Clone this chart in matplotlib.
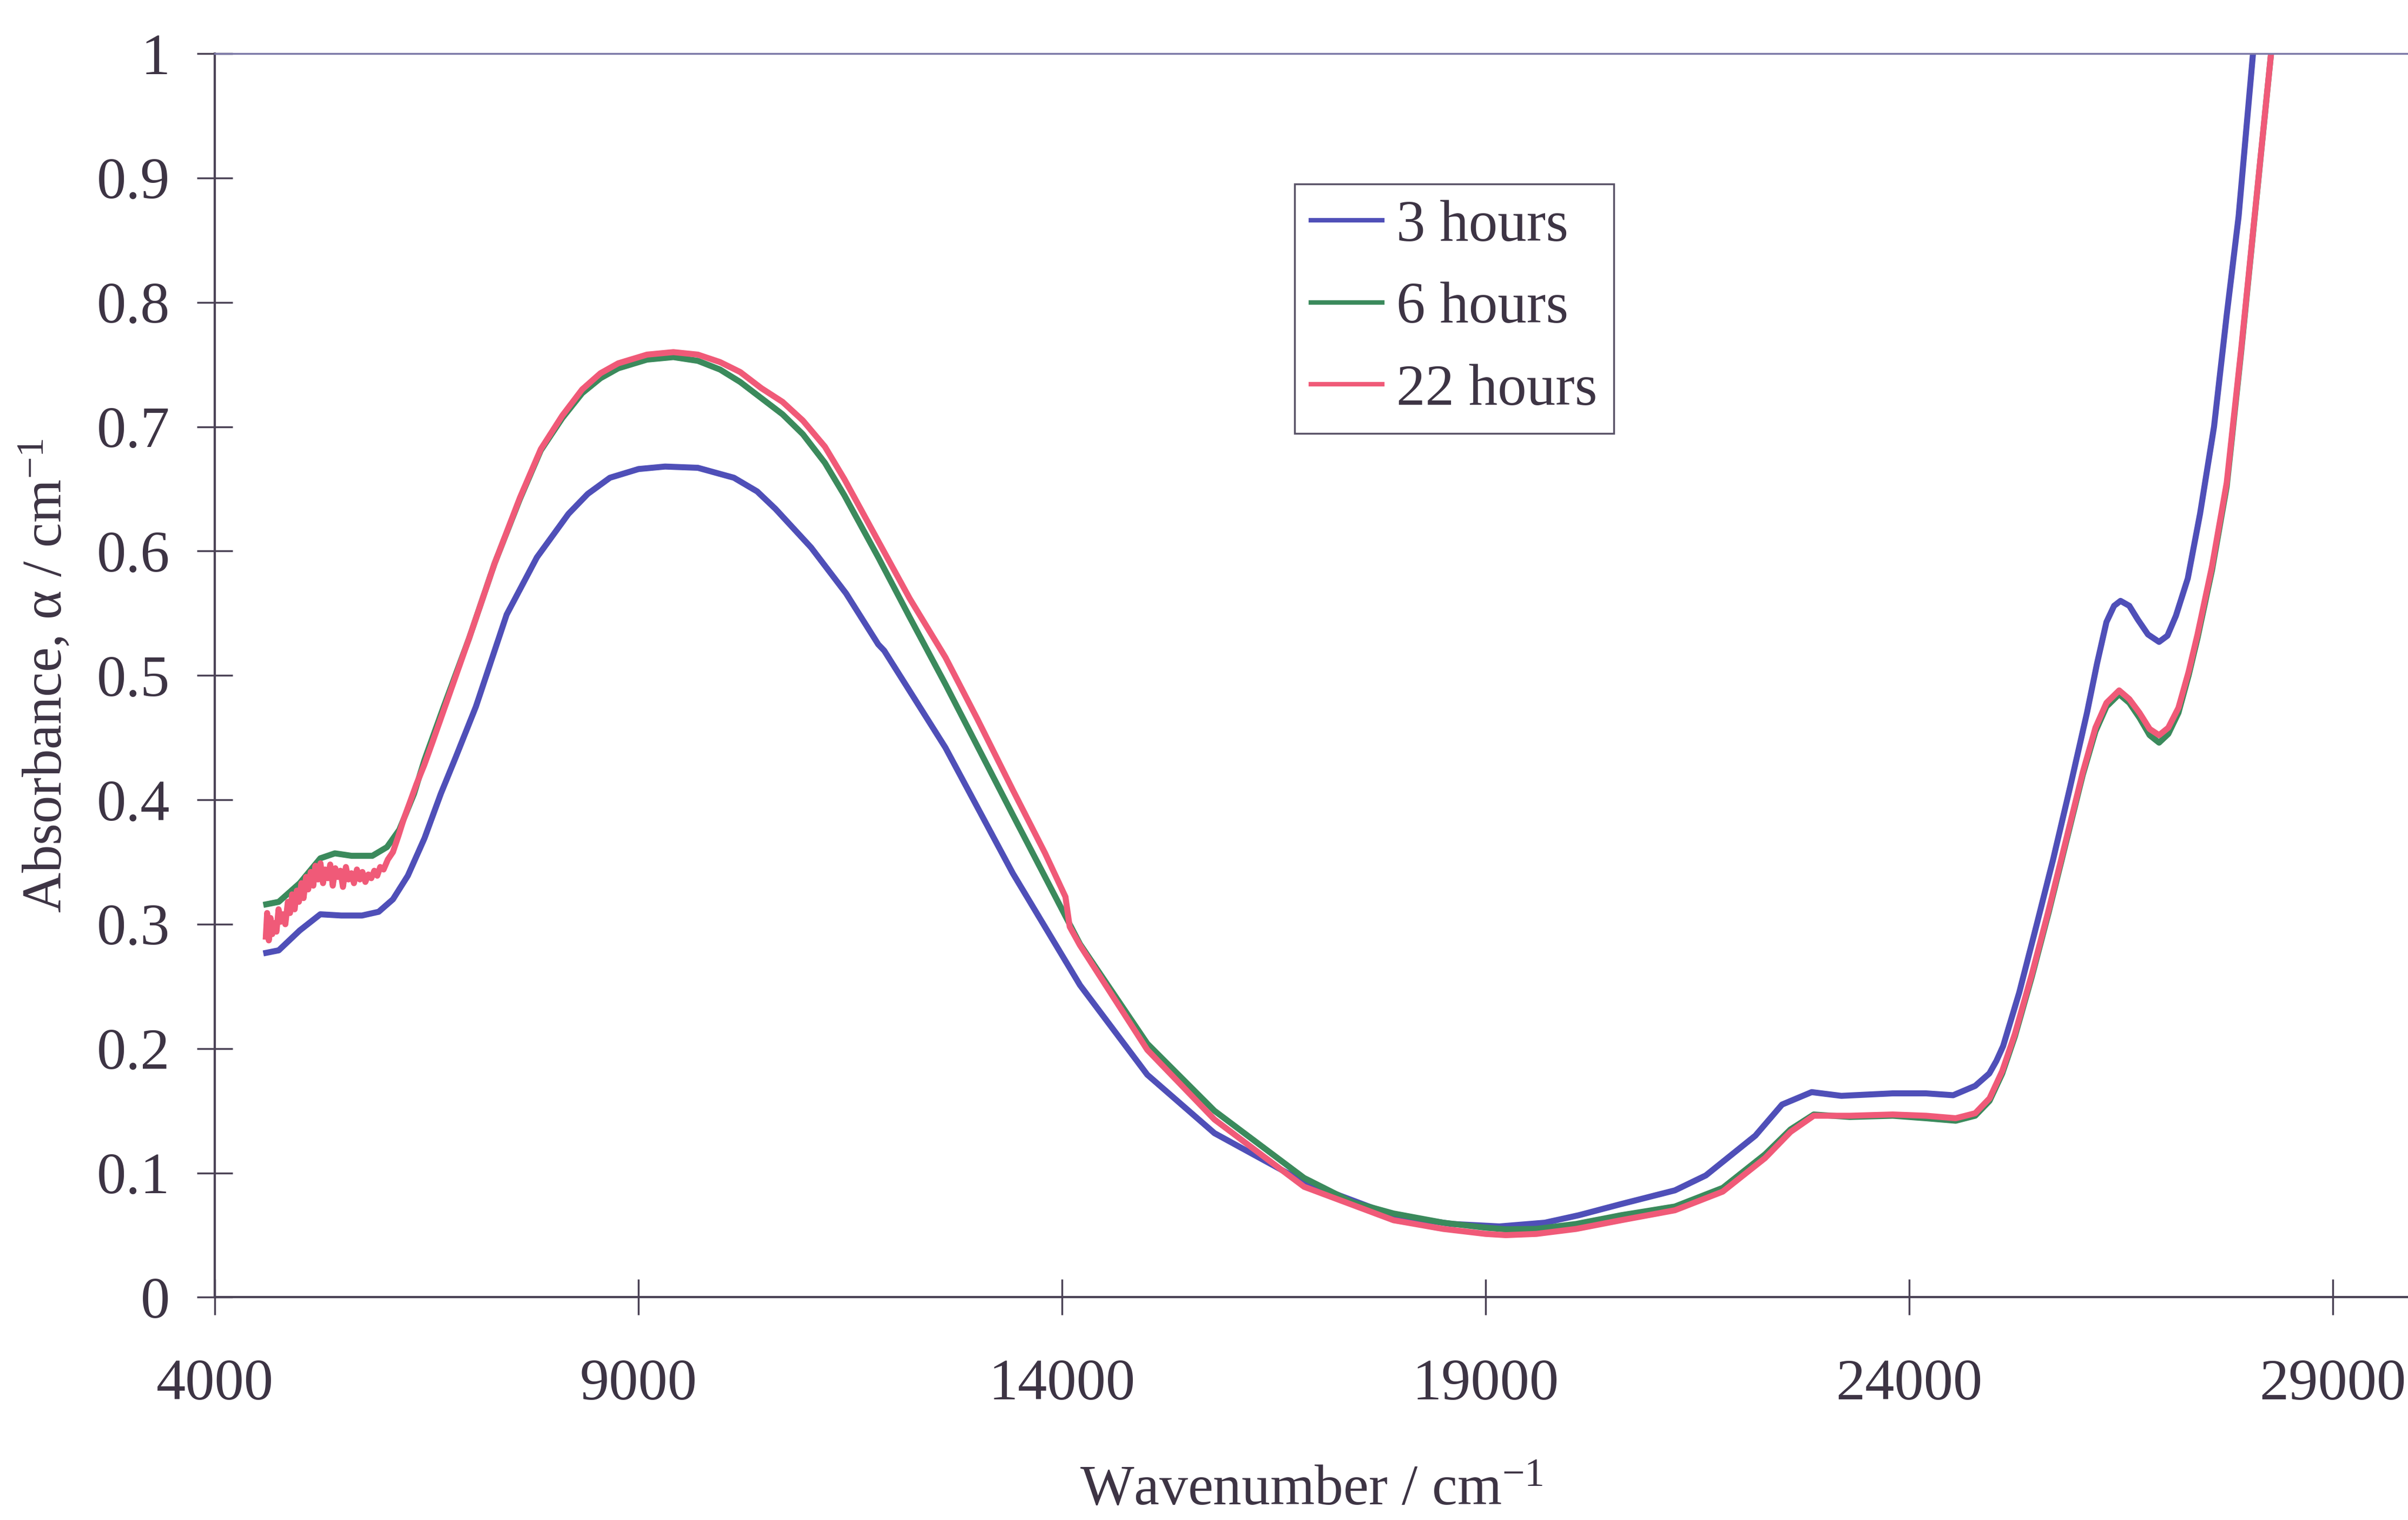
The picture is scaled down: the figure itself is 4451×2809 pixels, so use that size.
import matplotlib
matplotlib.use('Agg')
import matplotlib.pyplot as plt

# wavenumber (cm-1) / absorbance
wn_3h = [4605, 4752, 5000, 5243, 5490, 5735, 5932, 6100, 6276, 6472, 6666, 6840,
         7080, 7443, 7800, 8173, 8400, 8662, 9000, 9313, 9700, 10126, 10400, 10616,
         11036, 11450, 11830, 11900, 12623, 13418, 14212, 15006, 15799, 16857,
         17913, 18600, 19163, 19700, 20100, 20600, 21235, 21600, 22185, 22500,
         22850, 23200, 23806, 24200, 24520, 24780, 24947, 25030, 25110, 25300,
         25500, 25700, 25900, 26100, 26220, 26330, 26420, 26496, 26600, 26700,
         26820, 26951, 27050, 27150, 27290, 27435, 27600, 27750, 27890, 28060, 28100]
abs_3h = [0.277, 0.279, 0.295, 0.308, 0.307, 0.307, 0.310, 0.320, 0.339, 0.369, 0.405, 0.434,
          0.475, 0.549, 0.595, 0.630, 0.646, 0.659, 0.666, 0.668, 0.667, 0.659, 0.648, 0.634,
          0.603, 0.566, 0.525, 0.520, 0.442, 0.341, 0.251, 0.179, 0.132, 0.0926,
          0.0656, 0.059, 0.057, 0.060, 0.066, 0.075, 0.086, 0.098, 0.130, 0.155,
          0.165, 0.162, 0.164, 0.164, 0.1625, 0.170, 0.180, 0.190, 0.202, 0.245,
          0.298, 0.352, 0.410, 0.470, 0.510, 0.543, 0.556, 0.560, 0.556, 0.545,
          0.533, 0.527, 0.532, 0.548, 0.578, 0.630, 0.700, 0.790, 0.869, 1.000, 1.030]

wn_6h = [4605, 4752, 5000, 5243, 5415, 5613, 5857, 6030, 6176, 6350, 6472, 6700,
         7000, 7300, 7600, 7846, 8100, 8334, 8550, 8760, 9100, 9411, 9700, 9962,
         10200, 10450, 10700, 10940, 11200, 11429, 11830, 12200, 12623, 13418,
         14212, 15006, 15799, 16857, 17426, 17913, 18500, 19000, 19239, 19600,
         20070, 20600, 21235, 21800, 22300, 22600, 22874, 23300, 23806, 24200,
         24550, 24780, 24950, 25100, 25250, 25450, 25650, 25850, 26050, 26200,
         26330, 26480, 26600, 26720, 26840, 26951, 27060, 27180, 27300, 27405,
         27577, 27750, 27920, 28080, 28273, 28330]
abs_6h = [0.316, 0.318, 0.333, 0.353, 0.357, 0.355, 0.355, 0.362, 0.376, 0.405, 0.432, 0.475,
          0.530, 0.590, 0.642, 0.681, 0.707, 0.727, 0.739, 0.747, 0.754, 0.756, 0.753, 0.746,
          0.736, 0.723, 0.710, 0.694, 0.671, 0.645, 0.595, 0.547, 0.493, 0.388,
          0.284, 0.204, 0.150, 0.096, 0.0765, 0.0674, 0.060, 0.056, 0.0547, 0.055,
          0.059, 0.066, 0.073, 0.088, 0.115, 0.135, 0.147, 0.145, 0.146, 0.144,
          0.142, 0.146, 0.158, 0.180, 0.210, 0.258, 0.310, 0.365, 0.420, 0.455,
          0.475, 0.485, 0.478, 0.466, 0.452, 0.446, 0.453, 0.470, 0.500, 0.530,
          0.585, 0.652, 0.760, 0.869, 1.000, 1.040]

wn_22h = [4600, 4615, 4635, 4655, 4675, 4700, 4725, 4750, 4775, 4800, 4830, 4860,
          4885, 4910, 4940, 4965, 4990, 5020, 5045, 5075, 5100, 5130, 5160, 5185,
          5215, 5245, 5275, 5300, 5330, 5360, 5390, 5420, 5450, 5480, 5510, 5545,
          5575, 5610, 5640, 5675, 5710, 5740, 5775, 5810, 5845, 5880, 5915, 5950,
          5990, 6040, 6100, 6160, 6230, 6300, 6380, 6470, 6560, 6700, 7000, 7300,
          7600, 7846, 8100, 8334, 8550, 8760, 9100, 9411, 9700, 9962, 10200, 10450,
          10700, 10940, 11200, 11429, 11830, 12200, 12623, 13000, 13418, 13800,
          14040, 14090, 14212, 15006, 15799, 16857, 17913, 18500, 19000, 19239,
          19600, 20070, 20600, 21235, 21800, 22300, 22600, 22874, 23300, 23806,
          24200, 24550, 24780, 24950, 25100, 25250, 25450, 25650, 25850, 26050,
          26200, 26330, 26480, 26600, 26720, 26840, 26951, 27060, 27180, 27300,
          27405, 27577, 27750, 27920, 28080, 28273, 28330]
abs_22h = [0.290, 0.309, 0.287, 0.305, 0.292, 0.301, 0.294, 0.312, 0.302, 0.308, 0.300, 0.318,
           0.309, 0.324, 0.312, 0.327, 0.318, 0.333, 0.321, 0.338, 0.328, 0.342, 0.331, 0.347,
           0.336, 0.349, 0.333, 0.344, 0.337, 0.348, 0.331, 0.345, 0.338, 0.343, 0.330, 0.346,
           0.336, 0.341, 0.333, 0.344, 0.336, 0.342, 0.334, 0.340, 0.337, 0.343, 0.339, 0.346,
           0.344, 0.352, 0.358, 0.370, 0.385, 0.398, 0.413, 0.428, 0.445, 0.472, 0.530, 0.590,
           0.643, 0.682, 0.709, 0.730, 0.743, 0.751, 0.758, 0.760, 0.758, 0.752, 0.744, 0.731,
           0.720, 0.705, 0.684, 0.658, 0.608, 0.562, 0.5146, 0.465, 0.408, 0.357,
           0.322, 0.298, 0.283, 0.199, 0.143, 0.0889, 0.062, 0.055, 0.051, 0.050,
           0.051, 0.055, 0.062, 0.070, 0.085, 0.112, 0.133, 0.146, 0.146, 0.147,
           0.146, 0.144, 0.148, 0.160, 0.182, 0.212, 0.260, 0.312, 0.367, 0.422,
           0.458, 0.478, 0.488, 0.481, 0.470, 0.457, 0.452, 0.458, 0.474, 0.503,
           0.533, 0.588, 0.655, 0.762, 0.870, 1.000, 1.040]

series_labels = ['3 hours', '6 hours', '22 hours']
x_ticks = [4000, 9000, 14000, 19000, 24000, 29000]
y_ticks = [0, 0.1, 0.2, 0.3, 0.4, 0.5, 0.6, 0.7, 0.8, 0.9, 1]
y_tick_labels = ['0', '0.1', '0.2', '0.3', '0.4', '0.5', '0.6', '0.7', '0.8', '0.9', '1']

plt.rcParams['font.family'] = ['Liberation Serif', 'DejaVu Serif']
plt.rcParams['mathtext.fontset'] = 'custom'
plt.rcParams['mathtext.rm'] = 'Liberation Serif'
plt.rcParams['mathtext.it'] = 'Liberation Serif:italic'

ink = '#3d3444'
axis_col = '#4b4356'

fig = plt.figure(figsize=(44.51, 28.09), dpi=100)
ax = fig.add_axes([0.0893, 0.1465, 0.9107, 0.8182])

ax.plot(wn_3h, abs_3h, color='#4f4fb8', lw=8, label=series_labels[0])
ax.plot(wn_6h, abs_6h, color='#3b8a5c', lw=8, label=series_labels[1])
ax.plot(wn_22h, abs_22h, color='#f05a78', lw=8, label=series_labels[2])

ax.set_xlim(4000, 29890)
ax.set_ylim(0, 1)
ax.set_xticks(x_ticks)
ax.set_yticks(y_ticks)
ax.set_yticklabels(y_tick_labels)

ax.spines['right'].set_visible(False)
ax.spines['top'].set_color('#7d7aa8')
ax.spines['top'].set_linewidth(2.5)
for s in ['left', 'bottom']:
    ax.spines[s].set_color(axis_col)
    ax.spines[s].set_linewidth(3)

ax.tick_params(axis='both', direction='inout', length=48, width=2.5,
               color=axis_col, labelcolor=ink, labelsize=78)
ax.tick_params(axis='y', pad=36)
ax.tick_params(axis='x', pad=58)

ax.set_xlabel('Wavenumber / cm$^{-1}$', fontsize=76, color=ink, va='center')
ax.xaxis.set_label_coords(0.5, -0.156)
ax.set_ylabel('Absorbance, \u03b1 / cm$^{-1}$', fontsize=74, color=ink, va='center')
ax.yaxis.set_label_coords(-0.077, 0.5)

leg = ax.legend(loc='upper left', bbox_to_anchor=(0.4923, 0.8953), borderaxespad=0,
                fontsize=77, fancybox=False, handlelength=1.23, handletextpad=0.25,
                borderpad=0.28, labelspacing=0.5, framealpha=1)
leg.get_frame().set_edgecolor('#5a5468')
leg.get_frame().set_linewidth(2.5)
for t in leg.get_texts():
    t.set_color(ink)
for h in leg.get_lines():
    h.set_linewidth(6)

fig.savefig('out.png', dpi=100, facecolor='white')
